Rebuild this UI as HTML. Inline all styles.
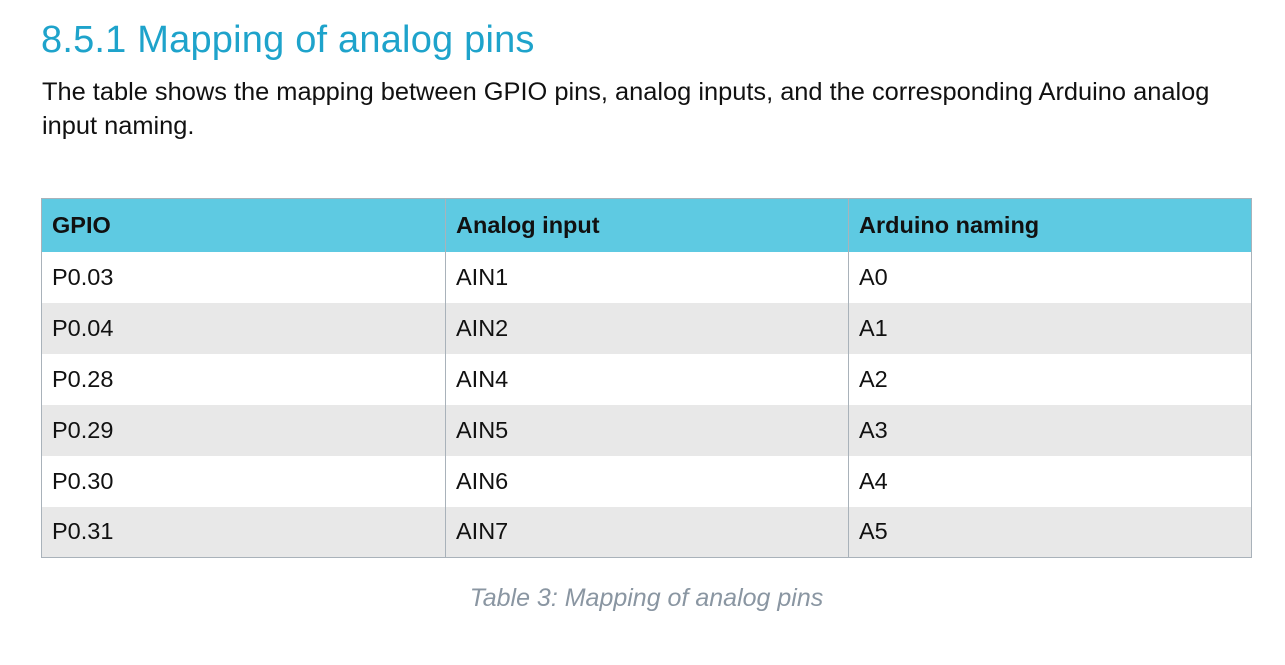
<!DOCTYPE html>
<html><head><style>
body{margin:0;width:1285px;height:665px;background:#fff;font-family:"Liberation Sans",sans-serif;position:relative;overflow:hidden}
h1{position:absolute;left:41px;top:19px;margin:0;font-weight:normal;font-size:38px;color:#1ea3cb;letter-spacing:0.2px}
p{position:absolute;left:42px;top:75px;margin:0;font-size:25.4px;line-height:34px;color:#111;width:1240px;white-space:nowrap}
table{position:absolute;left:41px;top:198px;border-collapse:collapse;width:1211px;font-size:23.5px;color:#111;border:1.5px solid #a9b2ba}
td,th{border:1.5px solid #a9b2ba;text-align:left;padding:0 0 0 10px;height:51px;border-top:none;border-bottom:none;box-sizing:border-box}
th{background:#5ecae2;height:53px;font-weight:bold}
tr.g td{background:#e8e8e8}
.cap{position:absolute;left:0;width:1293px;text-align:center;top:584px;font-style:italic;font-size:25px;color:#8a96a2}
</style></head><body>
<h1>8.5.1 Mapping of analog pins</h1>
<p>The table shows the mapping between GPIO pins, analog inputs, and the corresponding Arduino analog<br>input naming.</p>
<table>
<tr><th style="width:404px">GPIO</th><th style="width:403px">Analog input</th><th>Arduino naming</th></tr>
<tr><td>P0.03</td><td>AIN1</td><td>A0</td></tr>
<tr class="g"><td>P0.04</td><td>AIN2</td><td>A1</td></tr>
<tr><td>P0.28</td><td>AIN4</td><td>A2</td></tr>
<tr class="g"><td>P0.29</td><td>AIN5</td><td>A3</td></tr>
<tr><td>P0.30</td><td>AIN6</td><td>A4</td></tr>
<tr class="g"><td>P0.31</td><td>AIN7</td><td>A5</td></tr>
</table>
<div class="cap">Table 3: Mapping of analog pins</div>
</body></html>
